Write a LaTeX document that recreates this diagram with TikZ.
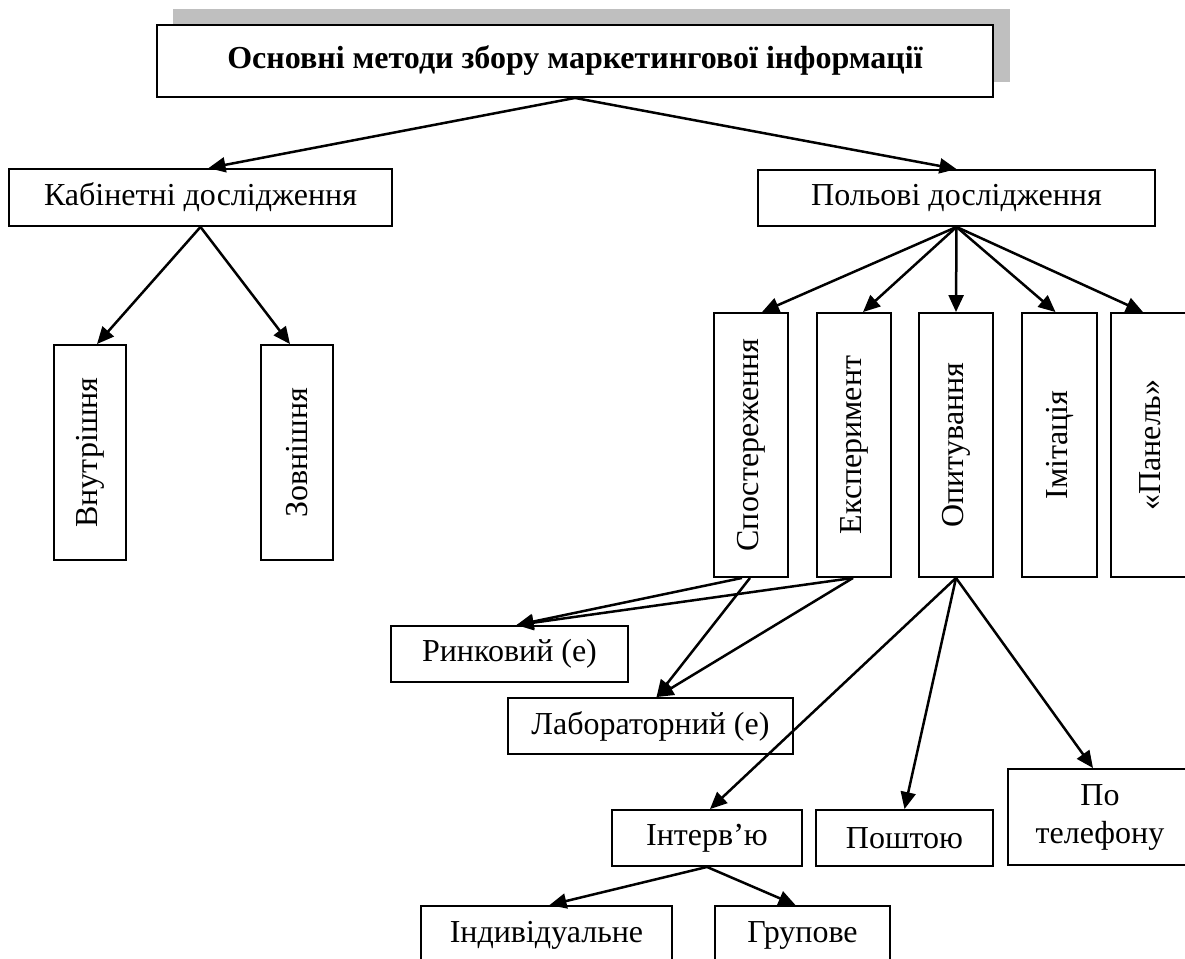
\documentclass[tikz,border=0pt]{standalone}
\usepackage{fontspec}
\setmainfont{Liberation Serif}
\usetikzlibrary{arrows.meta}
\newcommand\boxfont{\fontsize{32}{38}\selectfont}
\tikzset{
  box/.style={draw, line width=1.9pt, fill=white, inner sep=0pt, align=center, font=\boxfont},
  vbox/.style={box, rotate=90},
  conn/.style={line width=2.5pt, -{Triangle[length=17pt,width=15pt]}},
}
\begin{document}
\begin{tikzpicture}[x=1pt,y=-1pt]
\useasboundingbox (0,0) rectangle (1185,958);
\fill[white] (0,0) rectangle (1185,958);

% heading with its grey shadow
\fill[black!25] (173,9) rectangle (1010,82);
\node[box, minimum width=836, minimum height=72, font=\boxfont\bfseries] (title) at (575,61)
  {Основні методи збору маркетингової інформації};

% first level
\node[box, minimum width=383, minimum height=57] (kab) at (200.5,197.5) {Кабінетні дослідження};
\node[box, minimum width=397, minimum height=56] (pol) at (956.5,198) {Польові дослідження};

% desk research branches
\node[vbox, minimum width=215, minimum height=72] (vnut) at (90,452.5) {Внутрішня};
\node[vbox, minimum width=215, minimum height=72] (zovn) at (297,452.5) {Зовнішня};

% field research branches
\node[vbox, minimum width=264, minimum height=74] (spost) at (751,445) {Спостереження};
\node[vbox, minimum width=264, minimum height=74] (eksp) at (854,445) {Експеримент};
\node[vbox, minimum width=264, minimum height=74] (opyt) at (956,445) {Опитування};
\node[vbox, minimum width=264, minimum height=75] (imit) at (1059.5,445) {Імітація};
\node[vbox, minimum width=264, minimum height=78] (panel) at (1150,445) {«Панель»};

% kinds of observation / experiment
\node[box, minimum width=237, minimum height=56] (rynk) at (509.5,654) {Ринковий (е)};
\node[box, minimum width=285, minimum height=56] (lab) at (650.5,726) {Лабораторний (е)};

% kinds of survey
\node[box, minimum width=190, minimum height=56] (interv) at (707,838) {Інтерв’ю};
\node[box, minimum width=177, minimum height=56] (posht) at (904.5,838) {Поштою};
\node[box, minimum width=184, minimum height=96] (tel) at (1100,817) {По\\телефону};

% kinds of interview
\node[box, minimum width=251, minimum height=58] (indyv) at (546.5,935) {Індивідуальне};
\node[box, minimum width=175, minimum height=58] (grup) at (802.5,935) {Групове};

% connectors
\draw[conn] (title.south) -- ([xshift=8]kab.north);
\draw[conn] (title.south) -- (pol.north);

\draw[conn] (kab.south) -- ([xshift=7]vnut.east);
\draw[conn] (kab.south) -- ([xshift=-7]zovn.east);

\draw[conn] (pol.south) -- ([xshift=11]spost.east);
\draw[conn] (pol.south) -- ([xshift=9]eksp.east);
\draw[conn] (pol.south) -- (opyt.east);
\draw[conn] (pol.south) -- ([xshift=-4]imit.east);
\draw[conn] (pol.south) -- ([xshift=-7]panel.east);

\draw[conn] ([xshift=-9]spost.west) -- ([xshift=7]rynk.north);
\draw[conn] ([xshift=-1]spost.west) -- ([xshift=6]lab.north);
\draw[conn] ([xshift=-1]eksp.west) -- ([xshift=7]rynk.north);
\draw[conn] ([xshift=-1]eksp.west) -- ([xshift=6]lab.north);

\draw[conn] (opyt.west) -- ([xshift=3]interv.north);
\draw[conn] (opyt.west) -- (posht.north);
\draw[conn] (opyt.west) -- ([xshift=-7]tel.north);

\draw[conn] (interv.south) -- ([xshift=3]indyv.north);
\draw[conn] (interv.south) -- ([xshift=-7]grup.north);
\end{tikzpicture}
\end{document}
